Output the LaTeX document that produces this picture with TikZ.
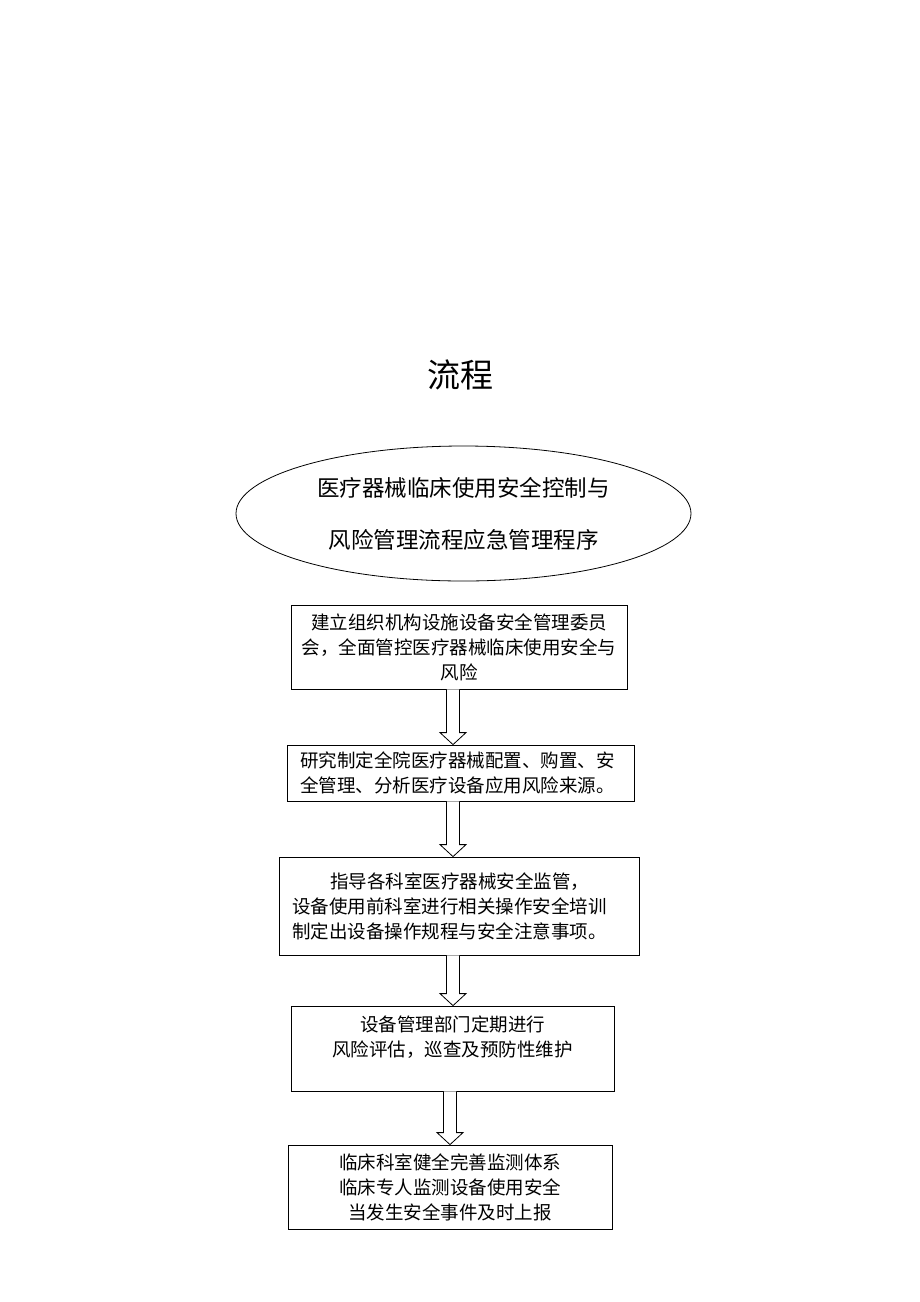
\documentclass[tikz,border=0pt]{standalone}
\usepackage{fontspec}
\setmainfont{Noto Sans CJK SC}
\usepackage{tikz}
\usetikzlibrary{shapes,calc}

\begin{document}
\begin{tikzpicture}[x=1pt,y=-1pt]
	
		\tikzset{boxstyle/.style={draw,rectangle,line width=0.8pt,inner sep=0pt,font=\fontsize{18.5}{25}\selectfont}}
		\tikzset{ovalstyle/.style={draw,ellipse,line width=0.8pt,inner sep=0pt,minimum width=455,minimum height=135,font=\fontsize{22.5}{52}\selectfont,align=center}}
		\tikzset{titlestyle/.style={font=\fontsize{33}{40}\selectfont}}
		\tikzset{hollowarrow/.style={draw,fill=white,line width=0.8pt,line join=miter}}
		
		\useasboundingbox (0,0) rectangle (920,1302);
		
		\newcommand\hollowArrow[3] % {x}{from}{to}
		{
			\coordinate (ax) at (#1,0);
			\draw[hollowarrow]
			($(ax |- #2.south)+(-6.5,0)$) -- ($(ax |- #3.north)+(-6.5,-12)$) -- ++(-6.5,0)
			-- (ax |- #3.north) -- ++(13,-12) -- ++(-6.5,0)
			-- ($(ax |- #2.south)+(6.5,0)$);
		}
		
		\node[titlestyle] at (460,375) (title) {流程};
		
		\node[ovalstyle] at (463.5,513.5) (e0) {医疗器械临床使用安全控制与\\风险管理流程应急管理程序};
		
		\node[
		boxstyle,
		minimum width=336, minimum height=84,
		text width=322pt, align=center
		] at (459,647) (b1) {建立组织机构设施设备安全管理委员\\会，全面管控医疗器械临床使用安全与\\风险};
		\node[
		boxstyle,
		minimum width=347, minimum height=56,
		text width=321pt, align=left
		] at (460.5,773) (b2) {研究制定全院医疗器械配置、购置、安\\全管理、分析医疗设备应用风险来源。};
		\node[
		boxstyle,
		minimum width=360, minimum height=98,
		text width=334pt, align=left
		] at (459,906) (b3) {\hspace*{38pt}指导各科室医疗器械安全监管，\\设备使用前科室进行相关操作安全培训\\制定出设备操作规程与安全注意事项。};
		\node[
		boxstyle,
		minimum width=323, minimum height=85,
		text width=300pt, align=center
		] at (452.5,1048.5) (b4) {设备管理部门定期进行\\风险评估，巡查及预防性维护\\\mbox{}};
		\node[
		boxstyle,
		minimum width=324, minimum height=84,
		text width=300pt, align=center
		] at (450,1187) (b5) {临床科室健全完善监测体系\\临床专人监测设备使用安全\\当发生安全事件及时上报};
		
		\hollowArrow{453}{b1}{b2}
		\hollowArrow{453}{b2}{b3}
		\hollowArrow{453}{b3}{b4}
		\hollowArrow{450}{b4}{b5}
	\end{tikzpicture}
\end{document}
